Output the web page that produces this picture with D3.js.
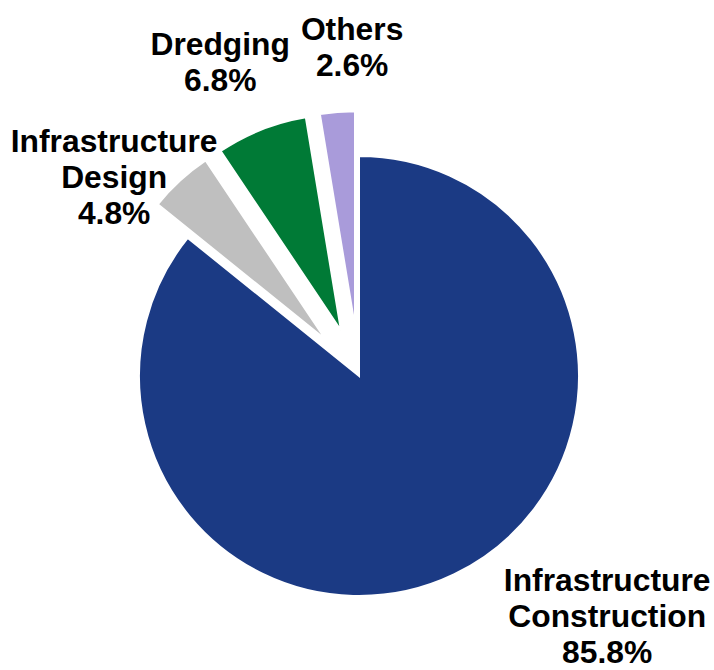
<!DOCTYPE html>
<html>
<head>
<meta charset="utf-8">
<script src="https://cdn.jsdelivr.net/npm/d3@7"></script>
<style>
  html, body { margin: 0; padding: 0; background: #ffffff; }
  svg { display: block; }
  text { font-family: "Liberation Sans", Arial, sans-serif; font-weight: bold; fill: #000; }
</style>
</head>
<body>
<svg id="chart" width="714" height="670"></svg>
<script>
// Revenue share by segment (%)
const categories = ["Infrastructure Construction", "Infrastructure Design", "Dredging", "Others"];
const shares = [85.8, 4.8, 6.8, 2.6];
const labelLines = [["Infrastructure", "Construction"], ["Infrastructure", "Design"], ["Dredging"], ["Others"]];
const colors = ["#1b3a84", "#bfbfbf", "#007a36", "#a99bda"];

// Layout
const width = 714, height = 670;
const cx = 359, cy = 376;
const mainRadius = 220;      // the large, un-exploded slice
const smallRadius = 216;     // exploded slices
const explode = 49;          // outward shift of the smaller slices
const fontSize = 31.8, lineHeight = 36;

// Label anchors: polar position (degrees clockwise from 12 o'clock, distance from centre)
const labelPlacement = {
  "Infrastructure Construction": { angle: 134.0, r: 345 },
  "Infrastructure Design": { angle: -50.8, r: 316 },
  "Dredging": { angle: -23.8, r: 344 },
  "Others": { angle: -1.2, r: 329 }
};

const data = categories.map((c, i) => ({ category: c, value: shares[i], lines: labelLines[i], color: colors[i], index: i }));

const pie = d3.pie().value(d => d.value).sort(null).startAngle(0).endAngle(2 * Math.PI);
const arcs = pie(data);

const svg = d3.select("#chart");
const g = svg.append("g").attr("transform", `translate(${cx},${cy})`);

const arcMain = d3.arc().innerRadius(0).outerRadius(mainRadius);
const arcSmall = d3.arc().innerRadius(0).outerRadius(smallRadius);

g.selectAll("path.slice")
  .data(arcs)
  .join("path")
  .attr("class", "slice")
  .attr("d", d => d.index === 0 ? arcMain(d) : arcSmall(d))
  .attr("transform", d => {
    if (d.index === 0) return null;
    const mid = (d.startAngle + d.endAngle) / 2;
    return `translate(${Math.sin(mid) * explode},${-Math.cos(mid) * explode})`;
  })
  .attr("fill", d => d.data.color)
  .attr("stroke", "#ffffff")
  .attr("stroke-width", 2)
  .attr("stroke-linejoin", "miter");

// Data labels: category name lines plus the percentage
const labels = g.selectAll("text.label")
  .data(arcs)
  .join("text")
  .attr("class", "label")
  .attr("text-anchor", "middle")
  .style("font-size", fontSize + "px");

labels.each(function(d) {
  const p = labelPlacement[d.data.category];
  const a = p.angle * Math.PI / 180;
  const x = Math.sin(a) * p.r;
  const y = -Math.cos(a) * p.r;
  const lines = d.data.lines.concat([d.data.value.toFixed(1) + "%"]);
  const capHalf = fontSize * 0.716 / 2;
  const first = y - (lines.length - 1) * lineHeight / 2 + capHalf;
  d3.select(this).selectAll("tspan")
    .data(lines)
    .join("tspan")
    .attr("x", x)
    .attr("y", (t, i) => first + i * lineHeight)
    .text(t => t);
});
</script>
</body>
</html>
